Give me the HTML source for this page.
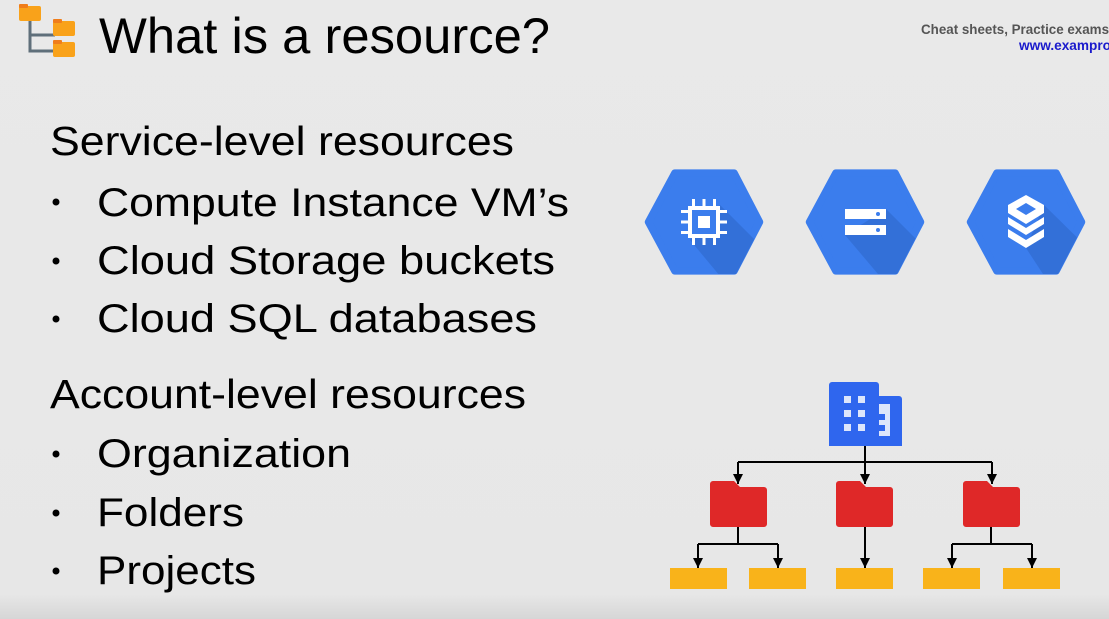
<!DOCTYPE html>
<html><head><meta charset="utf-8"><style>
html,body{margin:0;padding:0;width:1109px;height:619px;overflow:hidden;background:#e8e8e8}
svg{display:block}
text{font-family:"Liberation Sans",Arial,sans-serif}
</style></head><body>
<svg width="1109" height="619" viewBox="0 0 1109 619" xmlns="http://www.w3.org/2000/svg">
<defs>
<linearGradient id="bg" x1="0" y1="0" x2="0" y2="1">
<stop offset="0" stop-color="#e9e9e9"/><stop offset="0.96" stop-color="#e7e7e7"/><stop offset="1" stop-color="#d6d6d6"/>
</linearGradient>
<marker id="ar" viewBox="0 0 10 10" refX="10" refY="5" markerWidth="10" markerHeight="10" markerUnits="userSpaceOnUse" orient="auto">
<path d="M0,0 L10,5 L0,10 Z" fill="#000"/>
</marker>
<clipPath id="h1"><path d="M645,222 L673,170 L736,170 L763,222 L736,274 L673,274 Z"/></clipPath>
<clipPath id="h2"><path d="M806,222 L834,170 L897,170 L924,222 L897,274 L834,274 Z"/></clipPath>
<clipPath id="h3"><path d="M967,222 L995,170 L1058,170 L1085,222 L1058,274 L995,274 Z"/></clipPath>
</defs>
<rect width="1109" height="619" fill="url(#bg)"/>

<path d="M30,20 V51 H55 M30,35 H55" stroke="#5f6f7a" stroke-width="3" fill="none"/>
<rect x="19" y="6" width="22" height="15" rx="2" fill="#f9a21a"/><rect x="19" y="4" width="9" height="4" rx="1" fill="#f07d1a"/>
<rect x="53" y="21" width="22" height="15" rx="2" fill="#f9a21a"/><rect x="53" y="19" width="9" height="4" rx="1" fill="#f07d1a"/>
<rect x="53" y="42" width="22" height="15" rx="2" fill="#f9a21a"/><rect x="53" y="40" width="9" height="4" rx="1" fill="#f07d1a"/>

<text x="99" y="53" font-size="50" fill="#000" textLength="451" lengthAdjust="spacingAndGlyphs">What is a resource?</text>
<text x="921" y="34" font-size="13.5" fill="#555" font-weight="bold" textLength="188" lengthAdjust="spacingAndGlyphs">Cheat sheets, Practice exams</text>
<text x="1019" y="50" font-size="13.5" fill="#1a1acc" font-weight="bold" textLength="92" lengthAdjust="spacingAndGlyphs">www.exampro</text>

<g fill="#000">
<text x="50" y="155" font-size="41" textLength="464" lengthAdjust="spacingAndGlyphs">Service-level resources</text>
<text x="97" y="216" font-size="40" textLength="472" lengthAdjust="spacingAndGlyphs">Compute Instance VM’s</text>
<text x="97" y="274" font-size="40" textLength="458" lengthAdjust="spacingAndGlyphs">Cloud Storage buckets</text>
<text x="97" y="332" font-size="40" textLength="440" lengthAdjust="spacingAndGlyphs">Cloud SQL databases</text>
<text x="50" y="408" font-size="41" textLength="476" lengthAdjust="spacingAndGlyphs">Account-level resources</text>
<text x="97" y="467" font-size="40" textLength="254" lengthAdjust="spacingAndGlyphs">Organization</text>
<text x="97" y="526" font-size="40" textLength="147" lengthAdjust="spacingAndGlyphs">Folders</text>
<text x="97" y="584" font-size="40" textLength="159" lengthAdjust="spacingAndGlyphs">Projects</text>
<circle cx="56" cy="202" r="3.5"/><circle cx="56" cy="261" r="3.5"/><circle cx="56" cy="319" r="3.5"/>
<circle cx="56" cy="454" r="3.5"/><circle cx="56" cy="513" r="3.5"/><circle cx="56" cy="571" r="3.5"/>
</g>

<g stroke-linejoin="round" stroke-width="8">
<path d="M645,222 L673,170 L736,170 L763,222 L736,274 L673,274 Z" fill="#3b7ded" stroke="#3b7ded" transform="translate(704 222) scale(0.94) translate(-704 -222)"/>
<path d="M806,222 L834,170 L897,170 L924,222 L897,274 L834,274 Z" fill="#3b7ded" stroke="#3b7ded" transform="translate(865 222) scale(0.94) translate(-865 -222)"/>
<path d="M967,222 L995,170 L1058,170 L1085,222 L1058,274 L995,274 Z" fill="#3b7ded" stroke="#3b7ded" transform="translate(1026 222) scale(0.94) translate(-1026 -222)"/>
</g>
<path d="M720,205 L780,265 L740,300 L690,240 Z" fill="#3370d8" clip-path="url(#h1)"/>
<path d="M886,209 L940,263 L900,300 L845,235 Z" fill="#3370d8" clip-path="url(#h2)"/>
<path d="M1044,205 L1100,260 L1060,300 L1026,248 Z" fill="#3370d8" clip-path="url(#h3)"/>
<g fill="#fff">
<rect x="688" y="206" width="32" height="32"/>
<rect x="692" y="210" width="24" height="24" fill="#3b7ded"/>
<rect x="698" y="216" width="12" height="12"/>
<rect x="692" y="199" width="3" height="7"/><rect x="702.5" y="199" width="3" height="7"/><rect x="713" y="199" width="3" height="7"/>
<rect x="692" y="238" width="3" height="7"/><rect x="702.5" y="238" width="3" height="7"/><rect x="713" y="238" width="3" height="7"/>
<rect x="681" y="210" width="7" height="3"/><rect x="681" y="220.5" width="7" height="3"/><rect x="681" y="231" width="7" height="3"/>
<rect x="720" y="210" width="7" height="3"/><rect x="720" y="220.5" width="7" height="3"/><rect x="720" y="231" width="7" height="3"/>
</g>
<g fill="#fff">
<rect x="845" y="209" width="41" height="10"/><rect x="845" y="225" width="41" height="10"/>
</g>
<circle cx="878" cy="214" r="2" fill="#3b7ded"/><circle cx="878" cy="230" r="2" fill="#3b7ded"/>
<g fill="#fff">
<path d="M1026,195 L1044,205 L1044,213 L1026,224 L1008,213 L1008,205 Z"/>
<path d="M1008,217 L1026,228 L1044,217 L1044,224 L1026,235 L1008,224 Z"/>
<path d="M1008,229 L1026,240 L1044,229 L1044,237 L1026,248 L1008,237 Z"/>
</g>
<path d="M1026,203 L1036,209 L1026,215 L1016,209 Z" fill="#3b7ded"/>

<path d="M829,385 a3,3 0 0 1 3,-3 H876 a3,3 0 0 1 3,3 V396 H899 a3,3 0 0 1 3,3 V446 H829 Z" fill="#2f66ee"/>
<g fill="#dde6fb">
<rect x="844" y="396" width="7" height="7"/><rect x="858" y="396" width="7" height="7"/>
<rect x="844" y="410" width="7" height="7"/><rect x="858" y="410" width="7" height="7"/>
<rect x="844" y="424" width="7" height="7"/><rect x="858" y="424" width="7" height="7"/>
<path d="M879,404 H890 V436 H879 V431 H885 V425 H879 V420 H885 V414 H879 Z"/>
</g>

<g stroke="#000" stroke-width="2" fill="none">
<path d="M865,446 V462 M738,462 H992"/>
<path d="M738,462 V484" marker-end="url(#ar)"/>
<path d="M865,462 V484" marker-end="url(#ar)"/>
<path d="M992,462 V484" marker-end="url(#ar)"/>
<path d="M738,527 V544 M698,544 H778 M991,527 V544 M952,544 H1032"/>
<path d="M698,544 V568" marker-end="url(#ar)"/>
<path d="M778,544 V568" marker-end="url(#ar)"/>
<path d="M865,527 V568" marker-end="url(#ar)"/>
<path d="M952,544 V568" marker-end="url(#ar)"/>
<path d="M1032,544 V568" marker-end="url(#ar)"/>
</g>

<g fill="#df2828">
<path d="M710,484 a3,3 0 0 1 3,-3 H734 L740,487 H764 a3,3 0 0 1 3,3 V524 a3,3 0 0 1 -3,3 H713 a3,3 0 0 1 -3,-3 Z"/>
<path d="M836,484 a3,3 0 0 1 3,-3 H860 L866,487 H890 a3,3 0 0 1 3,3 V524 a3,3 0 0 1 -3,3 H839 a3,3 0 0 1 -3,-3 Z"/>
<path d="M963,484 a3,3 0 0 1 3,-3 H987 L993,487 H1017 a3,3 0 0 1 3,3 V524 a3,3 0 0 1 -3,3 H966 a3,3 0 0 1 -3,-3 Z"/>
</g>
<g fill="#f9b31a">
<rect x="670" y="568" width="57" height="21"/>
<rect x="749" y="568" width="57" height="21"/>
<rect x="836" y="568" width="57" height="21"/>
<rect x="923" y="568" width="57" height="21"/>
<rect x="1003" y="568" width="57" height="21"/>
</g>
</svg>
</body></html>
